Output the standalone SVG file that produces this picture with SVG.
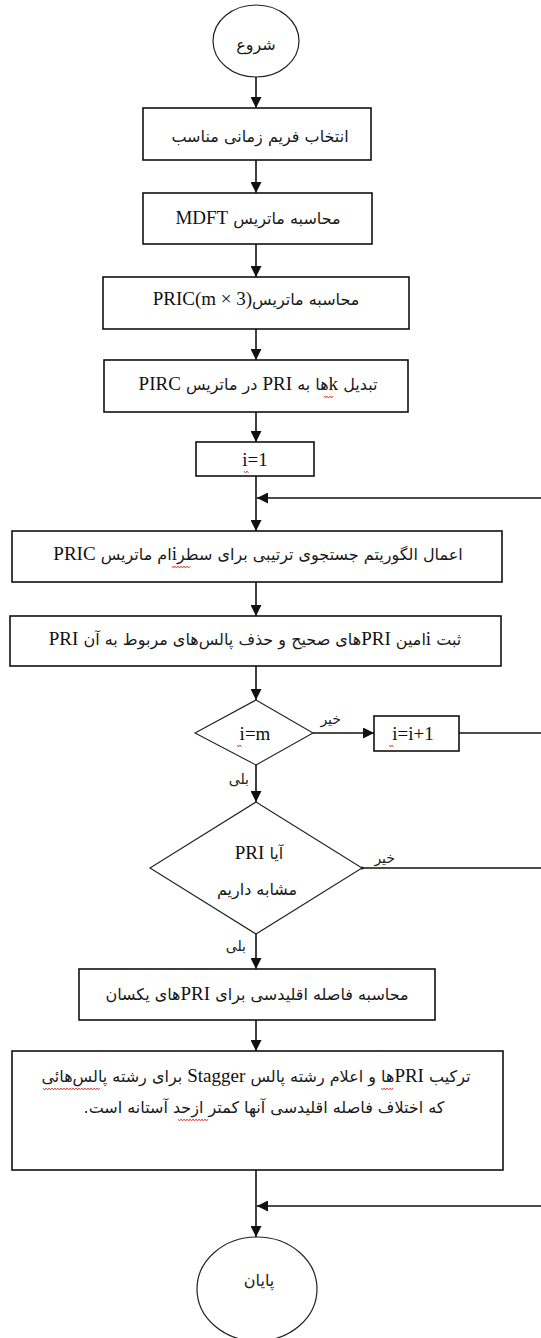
<svg xmlns="http://www.w3.org/2000/svg" width="541" height="1338" viewBox="0 0 541 1338">
<defs>
<style>
.box{fill:#fff;stroke:#111;stroke-width:1.6}
.term{fill:#fff;stroke:#222;stroke-width:1.2}
.dia{fill:#fff;stroke:#222;stroke-width:1.1}
.ln{fill:none;stroke:#111;stroke-width:1.6}
.fa{font-family:"DejaVu Sans","Noto Sans",sans-serif;font-size:16px;fill:#1a1a1a}
.la{font-family:"Liberation Serif",serif;font-size:19px;fill:#111}
.lbl{font-family:"DejaVu Sans",sans-serif;font-size:14px;fill:#222}
.sq{fill:none;stroke:#e02020;stroke-width:0.8}
</style>
<marker id="ah" viewBox="0 0 10 10" refX="10" refY="5" markerWidth="11" markerHeight="11" markerUnits="userSpaceOnUse" orient="auto">
<path d="M0,0 L10,5 L0,10 z" fill="#111"/>
</marker>
</defs>
<rect width="541" height="1338" fill="#fff"/>

<g id="connectors">
<line class="ln" x1="256" y1="76" x2="256" y2="108" marker-end="url(#ah)"/>
<line class="ln" x1="256" y1="160" x2="256" y2="193" marker-end="url(#ah)"/>
<line class="ln" x1="256" y1="244" x2="256" y2="277" marker-end="url(#ah)"/>
<line class="ln" x1="256" y1="329" x2="256" y2="360" marker-end="url(#ah)"/>
<line class="ln" x1="256" y1="412" x2="256" y2="442" marker-end="url(#ah)"/>
<line class="ln" x1="256" y1="476" x2="256" y2="531" marker-end="url(#ah)"/>
<line class="ln" x1="541" y1="498" x2="257" y2="498" marker-end="url(#ah)"/>
<line class="ln" x1="256" y1="582" x2="256" y2="616" marker-end="url(#ah)"/>
<line class="ln" x1="256" y1="666" x2="256" y2="700" marker-end="url(#ah)"/>
<line class="ln" x1="313" y1="733" x2="374" y2="733" marker-end="url(#ah)"/>
<line class="ln" x1="459" y1="733" x2="541" y2="733"/>
<line class="ln" x1="256" y1="765" x2="256" y2="802" marker-end="url(#ah)"/>
<line class="ln" x1="362" y1="868" x2="541" y2="868"/>
<circle cx="362" cy="868" r="1.6" fill="#111"/>
<line class="ln" x1="256" y1="934" x2="256" y2="969" marker-end="url(#ah)"/>
<line class="ln" x1="256" y1="1020" x2="256" y2="1051" marker-end="url(#ah)"/>
<line class="ln" x1="256" y1="1170" x2="256" y2="1237" marker-end="url(#ah)"/>
<line class="ln" x1="541" y1="1206" x2="257" y2="1206" marker-end="url(#ah)"/>
<text class="lbl" x="341" y="724" direction="rtl">خیر</text>
<text class="lbl" x="249" y="784" direction="rtl">بلی</text>
<text class="lbl" x="395" y="863" direction="rtl">خیر</text>
<text class="lbl" x="246" y="951" direction="rtl">بلی</text>
</g>

<g id="start">
<ellipse class="term" cx="256" cy="41" rx="43" ry="36"/>
<text class="fa" x="256" y="50" text-anchor="middle" direction="rtl">شروع</text>
</g>

<g id="frame">
<rect class="box" x="143" y="108" width="228" height="52"/>
<text class="fa" x="260" y="142" text-anchor="middle" direction="rtl">انتخاب فریم زمانی مناسب</text>
</g>

<g id="mdft">
<rect class="box" x="143" y="193" width="229" height="51"/>
<text class="fa" x="258" y="224" text-anchor="middle" direction="rtl">محاسبه ماتریس <tspan class="la">MDFT</tspan></text>
</g>

<g id="pric">
<rect class="box" x="103" y="277" width="306" height="52"/>
<text class="fa" x="256" y="305" text-anchor="middle" direction="rtl">محاسبه ماتریس<tspan class="la">PRIC(m × 3)&#x200E;</tspan></text>
</g>

<g id="convert">
<rect class="box" x="104" y="360" width="304" height="52"/>
<text class="fa" x="258" y="390" text-anchor="middle" direction="rtl">تبدیل <tspan class="la">k</tspan>ها به <tspan class="la">PRI</tspan> در ماتریس <tspan class="la">PIRC</tspan></text>
<path class="sq" d="M324,396 l1.5,2 l1.5,-2 l1.5,2 l1.5,-2 l1.5,2 l1.5,-2"/>
</g>

<g id="init">
<rect class="box" x="196" y="442" width="118" height="34"/>
<text class="la" x="255" y="466" text-anchor="middle">i=1</text>
<path class="sq" d="M244,471 l1.5,2 l1.5,-2 l1.5,2"/>
</g>

<g id="search">
<rect class="box" x="12" y="531" width="490" height="51"/>
<text class="fa" x="258" y="560" text-anchor="middle" direction="rtl">اعمال الگوریتم جستجوی ترتیبی برای سطر<tspan class="la">i</tspan>ام ماتریس <tspan class="la">PRIC</tspan></text>
<path class="sq" d="M172,566 l1.5,2 l1.5,-2 l1.5,2 l1.5,-2 l1.5,2 l1.5,-2 l1.5,2 l1.5,-2 l1.5,2 l1.5,-2 l1.5,2 l1.5,-2"/>
</g>

<g id="record">
<rect class="box" x="10" y="616" width="491" height="50"/>
<text class="fa" x="255" y="645" text-anchor="middle" direction="rtl">ثبت <tspan class="la">i</tspan>امین  <tspan class="la">PRI</tspan>های صحیح و حذف پالس‌های مربوط به آن  <tspan class="la">PRI</tspan></text>
</g>

<g id="check-m">
<polygon class="dia" points="256,700 313,733 256,765 195,733"/>
<text class="la" x="255" y="740" text-anchor="middle">i=m</text>
<path class="sq" d="M237,745 l1.5,2 l1.5,-2 l1.5,2"/>
</g>

<g id="increment">
<rect class="box" x="374" y="716" width="85" height="35"/>
<text class="la" x="413" y="740" text-anchor="middle">i=i+1</text>
<path class="sq" d="M389,745 l1.5,2 l1.5,-2 l1.5,2"/>
</g>

<g id="similar">
<polygon class="dia" points="256,802 362,868 256,934 150,868"/>
<text class="fa" x="259" y="859" text-anchor="middle" direction="rtl">آیا <tspan class="la">PRI</tspan></text>
<text class="fa" x="257" y="895" text-anchor="middle" direction="rtl">مشابه داریم</text>
</g>

<g id="distance">
<rect class="box" x="79" y="969" width="356" height="51"/>
<text class="fa" x="257" y="1000" text-anchor="middle" direction="rtl">محاسبه فاصله اقلیدسی برای <tspan class="la">PRI</tspan>های یکسان</text>
</g>

<g id="combine">
<rect class="box" x="12" y="1051" width="491" height="119"/>
<text class="fa" x="256" y="1082" text-anchor="middle" direction="rtl">ترکیب <tspan class="la">PRI</tspan>ها و اعلام رشته پالس <tspan class="la">Stagger</tspan> برای رشته پالس‌هائی</text>
<text class="fa" x="264" y="1113" text-anchor="middle" direction="rtl">که اختلاف فاصله اقلیدسی آنها کمتر ازحد آستانه است.</text>
<path class="sq" d="M381,1088 l1.5,2 l1.5,-2 l1.5,2 l1.5,-2 l1.5,2 l1.5,-2 l1.5,2 l1.5,-2"/>
<path class="sq" d="M43,1088 l1.5,2 l1.5,-2 l1.5,2 l1.5,-2 l1.5,2 l1.5,-2 l1.5,2 l1.5,-2 l1.5,2 l1.5,-2 l1.5,2 l1.5,-2 l1.5,2 l1.5,-2 l1.5,2 l1.5,-2 l1.5,2 l1.5,-2 l1.5,2 l1.5,-2 l1.5,2 l1.5,-2 l1.5,2 l1.5,-2 l1.5,2 l1.5,-2 l1.5,2 l1.5,-2 l1.5,2 l1.5,-2 l1.5,2 l1.5,-2 l1.5,2 l1.5,-2 l1.5,2 l1.5,-2 l1.5,2 l1.5,-2"/>
<path class="sq" d="M178,1119 l1.5,2 l1.5,-2 l1.5,2 l1.5,-2 l1.5,2 l1.5,-2 l1.5,2 l1.5,-2 l1.5,2 l1.5,-2 l1.5,2 l1.5,-2 l1.5,2 l1.5,-2 l1.5,2 l1.5,-2 l1.5,2 l1.5,-2 l1.5,2 l1.5,-2"/>
</g>

<g id="end">
<ellipse class="term" cx="257" cy="1289" rx="60" ry="52"/>
<text class="fa" x="259" y="1286" text-anchor="middle" direction="rtl">پایان</text>
</g>
</svg>
